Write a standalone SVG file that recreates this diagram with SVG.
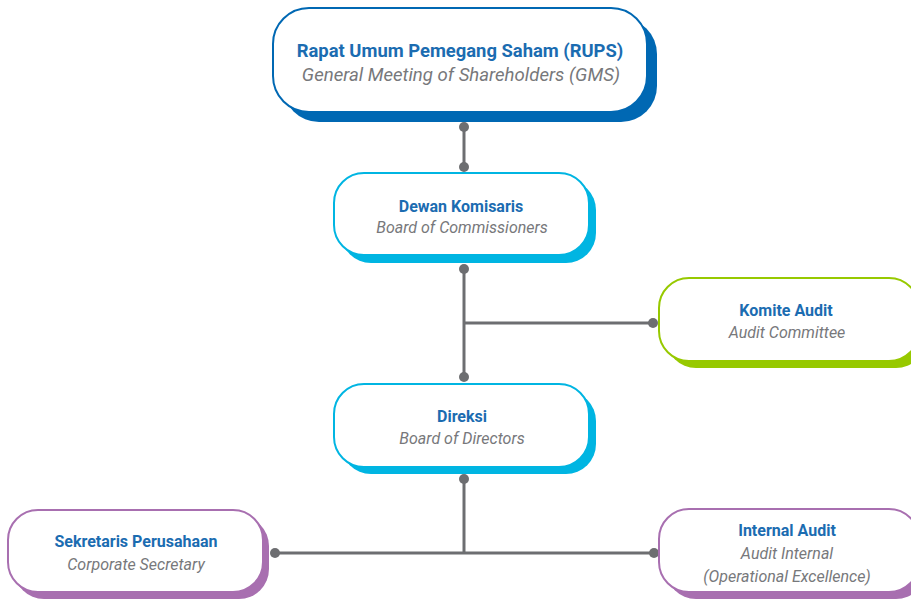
<svg xmlns="http://www.w3.org/2000/svg" width="911" height="599" viewBox="0 0 911 599">
  <style>
    .box { fill: #ffffff; stroke-width: 2; }
    .title { font-family: Roboto, "Liberation Sans", sans-serif; font-weight: bold; fill: #1b6cb1; text-anchor: middle; }
    .sub { font-family: Roboto, "Liberation Sans", sans-serif; font-style: italic; fill: #77787b; text-anchor: middle; }
    .line { stroke: #6d6e71; stroke-width: 3; fill: none; }
    .dot { fill: #6d6e71; }
  </style>
  <rect width="911" height="599" fill="#ffffff"/>

  <g id="connectors">
    <line class="line" x1="464" y1="127" x2="464" y2="167"/>
    <line class="line" x1="464" y1="269" x2="464" y2="377"/>
    <line class="line" x1="464" y1="323" x2="653" y2="323"/>
    <line class="line" x1="464" y1="479" x2="464" y2="553"/>
    <line class="line" x1="275" y1="553" x2="654" y2="553"/>
    <circle class="dot" cx="464" cy="127" r="5"/>
    <circle class="dot" cx="464" cy="167" r="5"/>
    <circle class="dot" cx="464" cy="269" r="5"/>
    <circle class="dot" cx="464" cy="377" r="5"/>
    <circle class="dot" cx="653" cy="323" r="5"/>
    <circle class="dot" cx="464" cy="479" r="5"/>
    <circle class="dot" cx="275" cy="553" r="5"/>
    <circle class="dot" cx="654" cy="553" r="5"/>
  </g>

  <g id="rups">
    <rect x="283" y="18" width="374" height="104" rx="36" fill="#0068b3"/>
    <rect class="box" x="273" y="8" width="374" height="104" rx="36" stroke="#0068b3"/>
    <text class="title" x="460" y="57" font-size="18.4">Rapat Umum Pemegang Saham (RUPS)</text>
    <text class="sub" x="461" y="81" font-size="18.6">General Meeting of Shareholders (GMS)</text>
  </g>

  <g id="dewan-komisaris">
    <rect x="341" y="180" width="255" height="83" rx="30" fill="#00b5e2"/>
    <rect class="box" x="334" y="173" width="255" height="82" rx="30" stroke="#00b5e2"/>
    <text class="title" x="461" y="212" font-size="16">Dewan Komisaris</text>
    <text class="sub" x="462" y="233" font-size="16">Board of Commissioners</text>
  </g>

  <g id="komite-audit">
    <rect x="666" y="285" width="260" height="83" rx="30" fill="#97c900"/>
    <rect class="box" x="659" y="278" width="260" height="83" rx="30" stroke="#97c900"/>
    <text class="title" x="786" y="316" font-size="16">Komite Audit</text>
    <text class="sub" x="787" y="338" font-size="16">Audit Committee</text>
  </g>

  <g id="direksi">
    <rect x="341" y="391" width="255" height="83" rx="30" fill="#00b5e2"/>
    <rect class="box" x="334" y="384" width="255" height="83" rx="30" stroke="#00b5e2"/>
    <text class="title" x="462" y="422" font-size="16">Direksi</text>
    <text class="sub" x="462" y="444" font-size="16">Board of Directors</text>
  </g>

  <g id="sekretaris-perusahaan">
    <rect x="14" y="516" width="255" height="83" rx="30" fill="#a86fb0"/>
    <rect class="box" x="8" y="510" width="255" height="82" rx="30" stroke="#a86fb0"/>
    <text class="title" x="136" y="547" font-size="16">Sekretaris Perusahaan</text>
    <text class="sub" x="136" y="570" font-size="16">Corporate Secretary</text>
  </g>

  <g id="internal-audit">
    <rect x="666" y="516" width="260" height="83" rx="30" fill="#a86fb0"/>
    <rect class="box" x="659" y="509" width="260" height="83" rx="30" stroke="#a86fb0"/>
    <text class="title" x="787" y="536" font-size="16">Internal Audit</text>
    <text class="sub" x="787" y="559" font-size="16">Audit Internal</text>
    <text class="sub" x="787" y="582" font-size="16">(Operational Excellence)</text>
  </g>
</svg>
